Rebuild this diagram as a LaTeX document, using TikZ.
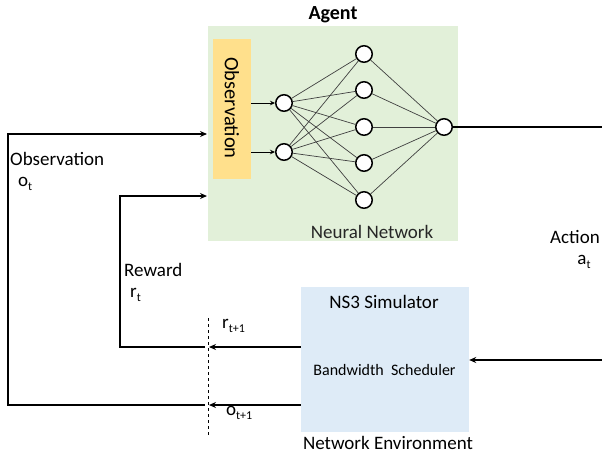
\documentclass[tikz,border=0pt]{standalone}
\usepackage{fontspec}
\setmainfont{Carlito}
\usetikzlibrary{arrows.meta}
\definecolor{agentgreen}{HTML}{E2F0D9}
\definecolor{obsyellow}{HTML}{FFE08C}
\definecolor{simblue}{HTML}{DEEBF7}
\newcommand{\sbs}[1]{\raisebox{-0.35ex}{\fontsize{12}{12}\selectfont #1}}
\begin{document}
\begin{tikzpicture}[x=1pt,y=-1pt,
  every node/.style={font=\fontsize{19}{22}\selectfont, inner sep=0pt},
  neuron/.style={circle,draw=black,fill=white,line width=1.5pt,minimum size=16.5pt},
  nnedge/.style={draw=black!75,line width=0.7pt},
  thickline/.style={line width=2.4pt},
  thinline/.style={line width=1.3pt},
  arr/.style={-{Stealth[length=7pt,width=6pt]}},
  smallarr/.style={-{Stealth[length=5pt,width=4.5pt]}},
  lbl/.style={anchor=west}
]
\useasboundingbox (0,0) rectangle (602,453);

% boxes
\node[fill=agentgreen,minimum width=250pt,minimum height=215pt] (agent) at (333,133) {};
\node[fill=obsyellow,minimum width=38pt,minimum height=140pt] (obs) at (232,109) {};
\node[rotate=-90,font=\fontsize{20.5}{23}\selectfont] (obstxt) at (232,108) {Observation};
\node[fill=simblue,minimum width=168pt,minimum height=145pt] (sim) at (385,359.5) {};

% texts
\node[font=\fontsize{20}{23}\selectfont\bfseries] (agenttitle) at (333,15) {Agent};
\node[text=black!85] (nntxt) at (372,232) {Neural Network};
\node (simtitle) at (384,302) {NS3 Simulator};
\node[font=\fontsize{16}{19}\selectfont] (bw) at (384.5,370) {Bandwidth~~Scheduler};
\node (netenv) at (388,443) {Network Environment};
\node[lbl] (obslbl) at (10,159) {Observation};
\node[lbl] (otlbl) at (18,184) {o\sbs{t}};
\node[lbl] (rewlbl) at (124,270) {Reward};
\node[lbl] (rtlbl) at (130,295) {r\sbs{t}};
\node[lbl] (rt1) at (222,326) {r\sbs{t+1}};
\node[lbl] (ot1) at (226,413) {o\sbs{t+1}};
\node (actlbl) at (575,237) {Action};
\node (atlbl) at (584,262) {a\sbs{t}};

% neurons
\node[neuron] (i1) at (284,103) {};
\node[neuron] (i2) at (284,152) {};
\foreach \k/\y in {1/54,2/90,3/127,4/163,5/200}{
  \node[neuron] (h\k) at (364,\y) {};
}
\node[neuron] (o) at (444,127) {};

\foreach \k in {1,...,5}{
  \draw[nnedge] (i1) -- (h\k);
  \draw[nnedge] (i2) -- (h\k);
  \draw[nnedge] (h\k) -- (o);
}
\draw[line width=0.9pt,smallarr] (obs.east |- i1) -- (i1);
\draw[line width=0.9pt,smallarr] (obs.east |- i2) -- (i2);

% coordinates
\coordinate (dTop) at (208,318);
\coordinate (dBot) at (208,437);
\coordinate (dR) at (208,347);
\coordinate (dO) at (208,405);
\coordinate (lO) at (8,405);
\coordinate (lR) at (120,347);
\coordinate (inO) at (207,134);
\coordinate (inR) at (207,196);
\coordinate (aTop) at (602,127);
\coordinate (aBot) at (602,360);

% dashed line
\draw[dashed,line width=0.9pt] (dTop) -- (dBot);

% observation loop
\draw[thickline,arr] (sim.west |- dO) -- ([xshift=1pt]dO);
\draw[thickline,arr] ([xshift=-3pt]dO) -- (lO) |- (inO);
% reward loop
\draw[thinline,arr] (sim.west |- dR) -- ([xshift=1pt]dR);
\draw[thinline,arr] ([xshift=-3pt]dR) -- (lR) |- (inR);
% action
\draw[thickline] (o) -- (aTop);
\draw[thickline,arr] (aBot) -- (sim.east |- aBot);
\end{tikzpicture}
\end{document}
